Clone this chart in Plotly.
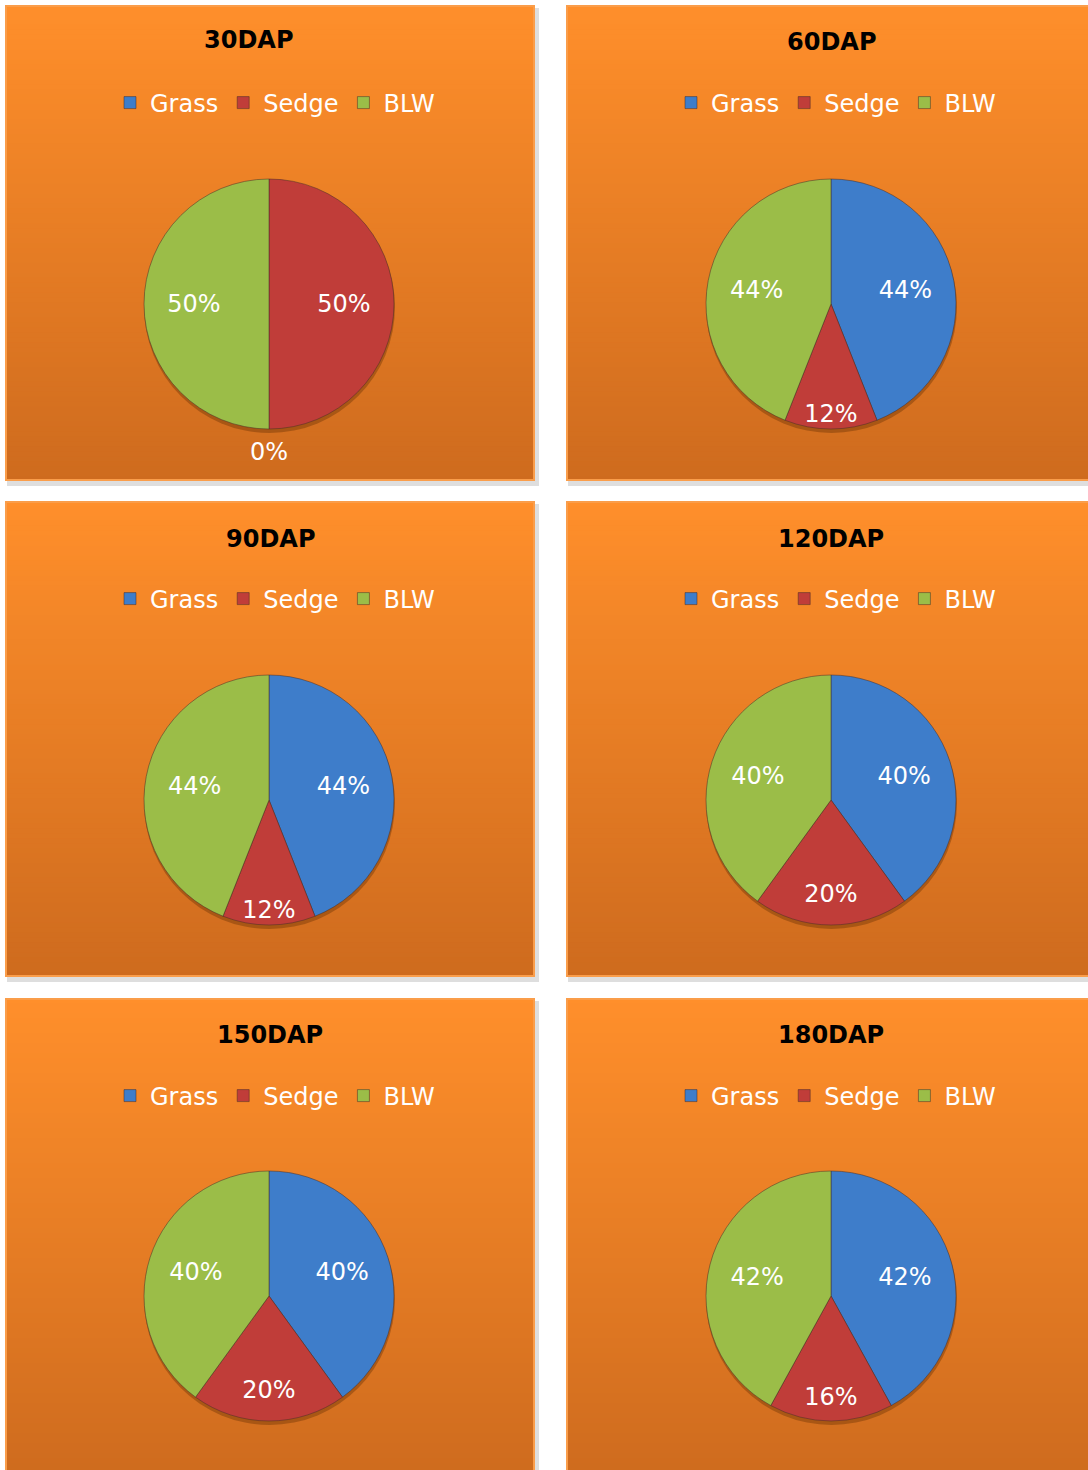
import plotly.graph_objects as go

# ---------------- data ----------------
stages = ["30DAP", "60DAP", "90DAP", "120DAP", "150DAP", "180DAP"]
categories = ["Grass", "Sedge", "BLW"]
grass = [0, 44, 44, 40, 40, 42]
sedge = [50, 12, 12, 20, 20, 16]
blw = [50, 44, 44, 40, 40, 42]

slice_colors = ["#3E7DCA", "#C03D39", "#9BBD48"]

W, H = 1088, 1470

def px(x):
    return x / W

def py(y):
    return 1 - y / H

# panel geometry (pixels)
cols = [(5, 535), (566, 1096)]
rows = [(5, 481), (501, 977), (998, 1478)]
pie_cx = [269, 831]
pie_cy = [304, 800, 1296]
R = 125
LABEL_SCALE = 1.2
title_x = [248, 831, 270, 831, 270, 831]
title_y = [40, 42, 539, 539, 1035, 1035]
legend_cx = [275, 836]
legend_y_off = 98

top_rgb = (255, 143, 43)
bot_rgb = (206, 107, 30)

fig = go.Figure()
shapes = []
annotations = []

for i, st in enumerate(stages):
    r, c = divmod(i, 2)
    x0, x1 = cols[c]
    y0, y1 = rows[r]
    # shadow
    shapes.append(dict(type="rect", xref="paper", yref="paper", layer="below",
                       x0=px(x0 + 2), x1=px(x1 + 4), y0=py(y0 + 3), y1=py(y1 + 5),
                       fillcolor="rgba(0,0,0,0.13)", line=dict(width=0)))
    # gradient strips
    N = 96
    for k in range(N):
        t = (k + 0.5) / N
        col = tuple(int(round(top_rgb[j] + (bot_rgb[j] - top_rgb[j]) * t)) for j in range(3))
        ya = y0 + (y1 - y0) * k / N
        yb = y0 + (y1 - y0) * (k + 1) / N + 2
        if k == N - 1:
            yb = y1
        shapes.append(dict(type="rect", xref="paper", yref="paper", layer="below",
                           x0=px(x0), x1=px(x1), y0=py(ya), y1=py(yb),
                           fillcolor="rgb(%d,%d,%d)" % col, line=dict(width=0)))
    # border
    shapes.append(dict(type="rect", xref="paper", yref="paper", layer="below",
                       x0=px(x0 + 1), x1=px(x1 - 1), y0=py(y0 + 1), y1=py(y1 - 1),
                       fillcolor="rgba(0,0,0,0)", line=dict(width=2, color="#FA9D4A")))

    vals = [grass[i], sedge[i], blw[i]]
    cx, cy = pie_cx[c], pie_cy[r]
    # soft shadow under the pie
    shapes.append(dict(type="circle", xref="paper", yref="paper", layer="below",
                       x0=px(cx - R), x1=px(cx + R + 1), y0=py(cy + R + 4), y1=py(cy - R + 2),
                       fillcolor="rgba(90,40,0,0.35)", line=dict(width=0)))
    lname = "legend" if i == 0 else "legend%d" % (i + 1)
    # distinct (invisible-suffix) labels so that every panel gets its own legend
    labels = [cat + "\u200b" * i for cat in categories]
    fig.add_trace(go.Pie(
        labels=labels, values=vals, sort=False, direction="clockwise", rotation=0,
        marker=dict(colors=slice_colors, line=dict(color="rgba(70,45,40,0.5)", width=1)),
        textinfo="none",
        domain=dict(x=[px(cx - R), px(cx + R)], y=[py(cy + R), py(cy - R)]),
        legend=lname, showlegend=True, hoverinfo="label+percent",
    ))
    # transparent, slightly larger twin pie that carries the percentage labels
    RL = R * LABEL_SCALE
    fig.add_trace(go.Pie(
        labels=labels, values=vals, sort=False, direction="clockwise", rotation=0,
        marker=dict(colors=["rgba(0,0,0,0)"] * 3, line=dict(width=0)),
        texttemplate=["%{percent:.0%}" if v > 0 else "" for v in vals],
        textposition="inside", insidetextorientation="horizontal",
        textfont=dict(family="DejaVu Sans", size=24, color="white"),
        domain=dict(x=[px(cx - RL), px(cx + RL)], y=[py(cy + RL), py(cy - RL)]),
        legend=lname, showlegend=False, hoverinfo="skip",
    ))
    # zero-valued slices get their label below the pie
    for k, v in enumerate(vals):
        if v == 0:
            annotations.append(dict(text="%d%%" % v, xref="paper", yref="paper",
                                    x=px(cx), y=py(cy + R + 23), xanchor="center", yanchor="middle",
                                    showarrow=False,
                                    font=dict(family="DejaVu Sans", size=24, color="white")))
    # title
    annotations.append(dict(text="<b>%s</b>" % st, xref="paper", yref="paper",
                            x=px(title_x[i]), y=py(title_y[i]), xanchor="center", yanchor="middle",
                            showarrow=False,
                            font=dict(family="DejaVu Sans", size=24, color="black")))
    fig.update_layout(**{lname: dict(
        orientation="h", x=px(legend_cx[c]), xanchor="center",
        y=py(y0 + legend_y_off), yanchor="middle",
        bgcolor="rgba(0,0,0,0)", font=dict(family="DejaVu Sans", size=24, color="white"),
        itemclick=False, itemdoubleclick=False, traceorder="normal")})

fig.update_layout(
    width=W, height=H, margin=dict(l=0, r=0, t=0, b=0),
    paper_bgcolor="white", plot_bgcolor="white",
    shapes=shapes, annotations=annotations,
    uniformtext=dict(minsize=24, mode="show"),
)

fig.write_html("out.html")
